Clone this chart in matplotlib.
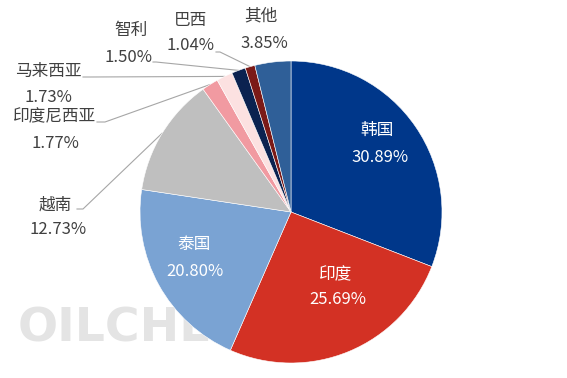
import numpy as np
import matplotlib
matplotlib.use("Agg")
import matplotlib.pyplot as plt

plt.rcParams['font.family'] = ['Noto Sans CJK SC', 'DejaVu Sans']

countries = ["韩国", "印度", "泰国", "越南", "印度尼西亚", "马来西亚", "智利", "巴西", "其他"]
shares = [30.89, 25.69, 20.80, 12.73, 1.77, 1.73, 1.50, 1.04, 3.85]
colors = ["#00378A", "#D33124", "#7AA3D3", "#BFBFBF", "#F19AA1",
          "#FCE1E1", "#0B2250", "#7B1A17", "#2F5F98"]

W, H = 567, 378
CX, CY, R = 291, 212, 151


def px(x, y):
    # pixel position -> data coords (pie radius = 1)
    return (x - CX) / R, (CY - y) / R


fig = plt.figure(figsize=(W / 100, H / 100), dpi=100)
ax = fig.add_axes([0, 0, 1, 1])

wedges, _ = ax.pie(shares, colors=colors, startangle=90, counterclock=False,
                   radius=1, wedgeprops=dict(edgecolor="white", linewidth=0.4))
for w in wedges:
    w.set_zorder(2)

ax.set_xlim(px(0, 0)[0], px(W, 0)[0])
ax.set_ylim(px(0, H)[1], px(0, 0)[1])
ax.set_aspect("equal")
ax.axis("off")

# watermark behind the pie
wx, wy = px(18, 329)
ax.text(wx, wy, "OILCHEM", fontsize=34, color="#e4e4e4", fontweight="bold",
        family="DejaVu Sans", ha="left", va="center", zorder=0)

txt = "#404040"
fs = 12
# inside labels: (name pos, pct pos)
inside = {0: ((377, 130), (380, 157)),
          1: ((336, 275), (338, 300)),
          2: ((194, 245), (195, 271))}
for i, (p1, p2) in inside.items():
    ax.text(*px(*p1), countries[i], color="white", fontsize=fs, ha="center", va="center", zorder=3)
    ax.text(*px(*p2), f"{shares[i]:.2f}%", color="white", fontsize=fs, ha="center", va="center", zorder=3)

# outside labels: name pos, pct pos, leader start, elbow
outside = {3: ((55, 205), (58, 230), (77, 209), (83, 209)),
           4: ((55, 117), (55, 143), (97, 122), (105, 122)),
           5: ((48, 71), (48, 97), (83, 77), (90, 77)),
           6: ((131, 30), (128, 57), (153, 62), (156, 62)),
           7: ((191, 20), (191, 46), (216, 52), (220, 52)),
           8: ((261, 16), (264, 43), None, None)}
for i, (p1, p2, s, e) in outside.items():
    ax.text(*px(*p1), countries[i], color=txt, fontsize=fs, ha="center", va="center", zorder=3)
    ax.text(*px(*p2), f"{shares[i]:.2f}%", color=txt, fontsize=fs, ha="center", va="center", zorder=3)
    if s is None:
        continue
    w = wedges[i]
    mid = np.deg2rad((w.theta1 + w.theta2) / 2)
    ex, ey = np.cos(mid), np.sin(mid)
    xs = [px(*s)[0], px(*e)[0], ex]
    ys = [px(*s)[1], px(*e)[1], ey]
    ax.plot(xs, ys, color="#A6A6A6", linewidth=0.8, zorder=1)

fig.savefig("out.png", dpi=100)
